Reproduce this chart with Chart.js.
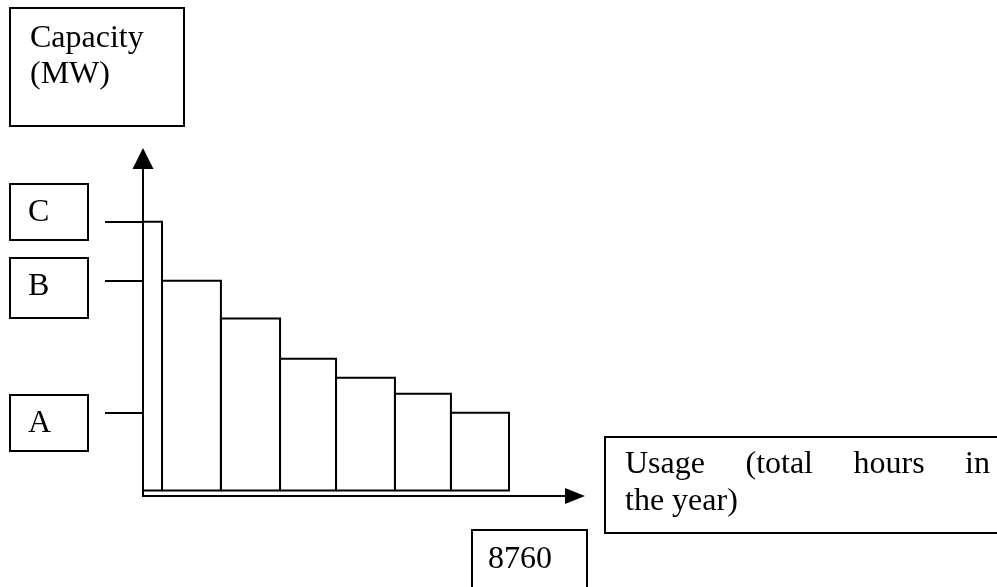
<!DOCTYPE html>
<html>
<head>
<meta charset="utf-8">
<script src="https://cdn.jsdelivr.net/npm/chart.js@4.4.0/dist/chart.umd.min.js"></script>
<style>
    html, body { margin: 0; padding: 0; background: #fff; }
    #wrap { width: 997px; height: 587px; }
</style>
</head>
<body>
<div id="wrap"><canvas id="loadChart" width="997" height="587"></canvas></div>
<script>
// Dữ liệu: mép các khối theo giờ trong năm, công suất mỗi khối (MW)
const hourEdges = [0, 455, 1865, 3280, 4620, 6030, 7370, 8760];
const capacity = [100, 78, 64, 49, 42, 36, 29];
const tickValues = [29, 78, 100];
const tickLabels = ['A', 'B', 'C'];
const yTitle = ['Capacity', '(MW)'];
const xTitle = ['Usage (total hours in', 'the year)'];
const hoursLabel = '8760';

const SERIF = '32px "Liberation Serif", "Times New Roman", serif';

// Mỗi khối là một hình chữ nhật viền đen
const barSets = capacity.map((c, i) => ({
    data: [
        { x: hourEdges[i], y: 0 },
        { x: hourEdges[i], y: c },
        { x: hourEdges[i + 1], y: c },
        { x: hourEdges[i + 1], y: 0 },
        { x: hourEdges[i], y: 0 }
    ],
    borderColor: '#000',
    borderWidth: 2,
    pointRadius: 0,
    fill: false,
    tension: 0
}));

// Vẽ mũi tên trục và các ô chữ
const diagramPlugin = {
    id: 'diagram',
    afterDraw(chart) {
        const ctx = chart.ctx;
        const a = chart.chartArea;
        const ax = chart.scales.y.right;
        ctx.save();
        ctx.fillStyle = '#000';
        ctx.strokeStyle = '#000';

        // mũi tên trục tung
        ctx.beginPath();
        ctx.moveTo(ax, a.top - 21);
        ctx.lineTo(ax - 10.5, a.top);
        ctx.lineTo(ax + 10.5, a.top);
        ctx.closePath();
        ctx.fill();

        // mũi tên trục hoành
        ctx.beginPath();
        ctx.moveTo(a.right + 20, a.bottom);
        ctx.lineTo(a.right, a.bottom - 8);
        ctx.lineTo(a.right, a.bottom + 8);
        ctx.closePath();
        ctx.fill();

        ctx.lineWidth = 2;
        ctx.font = SERIF;
        ctx.textBaseline = 'alphabetic';
        ctx.textAlign = 'left';

        // ô tiêu đề trục tung
        ctx.strokeRect(10, 8, 174, 118);
        ctx.fillText(yTitle[0], 30, 47);
        ctx.fillText(yTitle[1], 30, 83);

        // ô nhãn C, B, A
        const labelBoxes = [
            { top: 395, h: 56, base: 432 },
            { top: 258, h: 60, base: 295 },
            { top: 184, h: 56, base: 221 }
        ];
        labelBoxes.forEach((b, i) => {
            ctx.strokeRect(10, b.top, 78, b.h);
            ctx.fillText(tickLabels[i], 28, b.base);
        });

        // ô 8760
        ctx.strokeRect(472, 530, 115, 70);
        ctx.fillText(hoursLabel, 488, 568);

        // ô tiêu đề trục hoành, dòng đầu căn đều hai bên
        ctx.strokeRect(605, 437, 420, 96);
        const words = xTitle[0].split(' ');
        const widths = words.map(w => ctx.measureText(w).width);
        const total = widths.reduce((s, w) => s + w, 0);
        const gap = (990 - 625 - total) / (words.length - 1);
        let x = 625;
        words.forEach((w, i) => {
            ctx.fillText(w, x, 473);
            x += widths[i] + gap;
        });
        ctx.fillText(xTitle[1], 625, 510);

        ctx.restore();
    }
};

new Chart(document.getElementById('loadChart'), {
    type: 'line',
    data: { datasets: barSets },
    options: {
        responsive: false,
        animation: false,
        devicePixelRatio: 1,
        layout: { padding: { left: 105, top: 169, right: 432, bottom: 91 } },
        plugins: { legend: { display: false }, tooltip: { enabled: false } },
        scales: {
            x: {
                type: 'linear',
                min: 0,
                max: 10100,
                grid: { display: false, drawTicks: false },
                ticks: { display: false },
                border: { display: true, color: '#000', width: 2 }
            },
            y: {
                min: -2,
                max: 119.6,
                afterBuildTicks: s => { s.ticks = tickValues.map(v => ({ value: v })); },
                grid: { drawOnChartArea: false, drawTicks: true, tickLength: 38, color: '#000', lineWidth: 2 },
                ticks: { display: false },
                border: { display: true, color: '#000', width: 2 }
            }
        }
    },
    plugins: [diagramPlugin]
});
</script>
</body>
</html>
